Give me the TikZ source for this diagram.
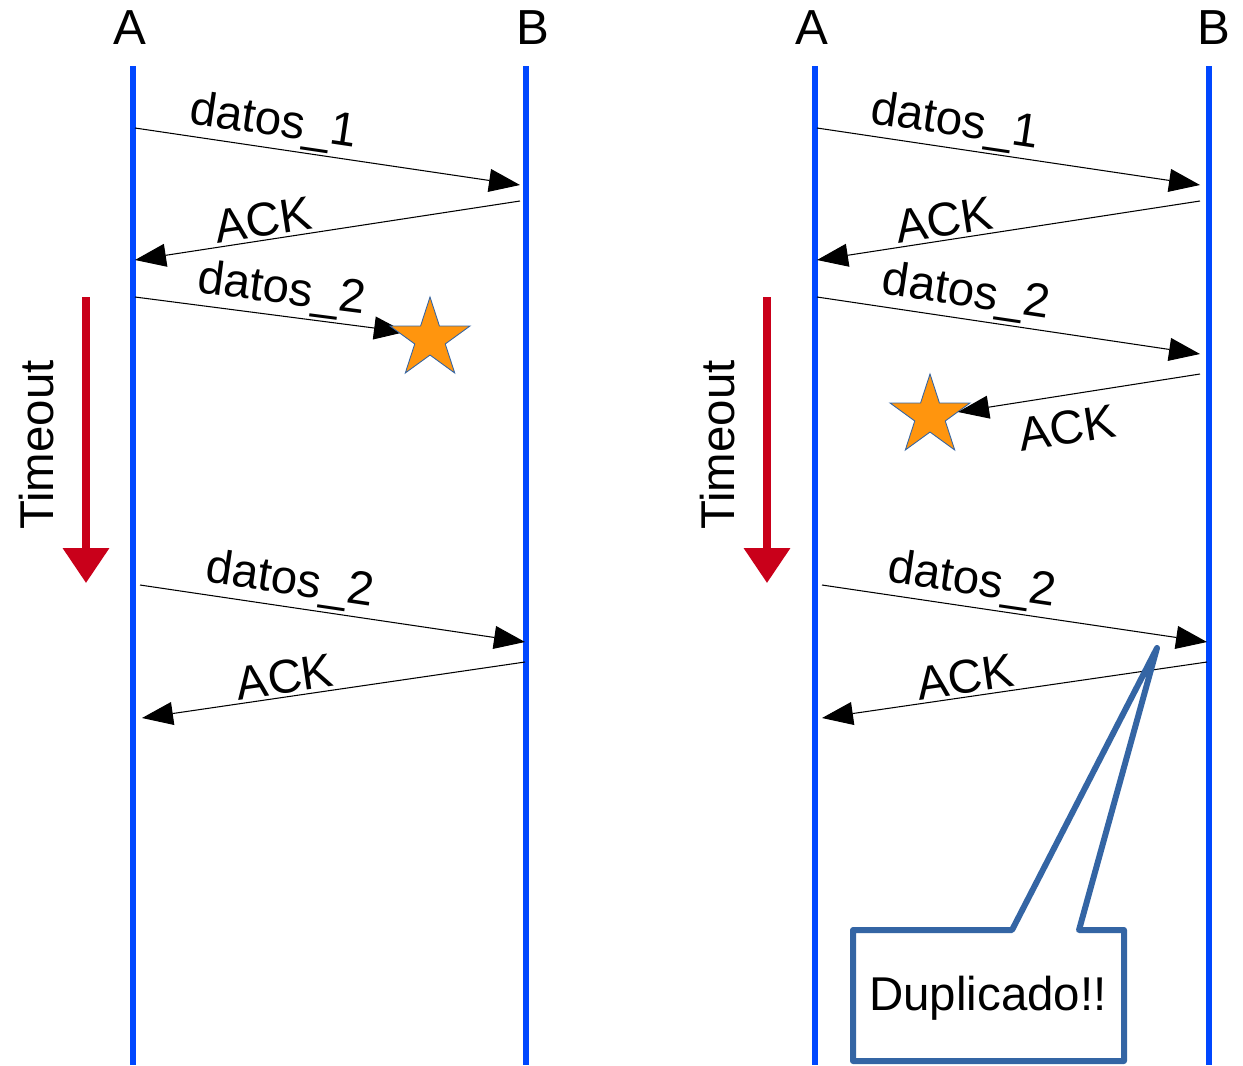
\documentclass[tikz,border=0pt]{standalone}
\usepackage{fontspec}
\setmainfont{Liberation Sans}
\usetikzlibrary{positioning,calc,arrows.meta,shapes.geometric}
\definecolor{lifeblue}{HTML}{0047FF}
\definecolor{timered}{HTML}{C9001A}
\definecolor{starorange}{HTML}{FF950E}
\definecolor{noteblue}{HTML}{3465A4}

\tikzset{
  lifeline/.style={draw=lifeblue,line width=3.4pt},
  msg/.style={draw=black,line width=0.6pt,-{Triangle[length=0.62cm,width=0.46cm]}},
  msglabel/.style={font=\fontsize{27}{31}\selectfont,sloped,inner sep=1.5pt},
  endname/.style={font=\fontsize{28}{32}\selectfont},
  timeout/.style={draw=timered,line width=4pt,-{Triangle[length=0.7cm,width=0.9cm]}},
  lost/.style={star,star points=5,star point ratio=2.618,minimum size=1.68cm,inner sep=0pt,fill=starorange,draw=noteblue,line width=0.5pt}
}

\begin{document}
\begin{tikzpicture}[x=0.02cm,y=-0.02cm]
\useasboundingbox (0,0) rectangle (1243,1065);
% lifelines, left panel
\node[endname] (nameA1) at (130,28) {A};
\node[endname] (nameB1) at (533,28) {B};
\draw[lifeline] (133,66) coordinate (topA1) -- (133,1065) coordinate (botA1);
\draw[lifeline] (526,66) coordinate (topB1) -- (526,1065) coordinate (botB1);
% lifelines, right panel
\node[endname] (nameA2) at (812,28) {A};
\node[endname] (nameB2) at (1214,28) {B};
\draw[lifeline] (815,66) coordinate (topA2) -- (815,1065) coordinate (botA2);
\draw[lifeline] (1209,66) coordinate (topB2) -- (1209,1065) coordinate (botB2);

% left panel: lost data
\coordinate (l1s) at (135,128); \coordinate (l1e) at (520,185);
\coordinate (l2s) at (520,201); \coordinate (l2e) at (135,260);
\coordinate (l3s) at (135,297); \coordinate (l3e) at (405,332);
\coordinate (l4s) at (140,585); \coordinate (l4e) at (525,642);
\coordinate (l5s) at (525,662); \coordinate (l5e) at (142,718);
\draw[msg] (l1s) -- node[msglabel,above,pos=0.35] {datos\_1} (l1e);
\draw[msg] (l2s) -- node[msglabel,above,pos=0.66] {ACK} (l2e);
\draw[msg] (l3s) -- node[msglabel,above,pos=0.53] {datos\_2} (l3e);
\node[lost] (star1) at (430,339) {};
\draw[msg] (l4s) -- node[msglabel,above,pos=0.38] {datos\_2} (l4e);
\draw[msg] (l5s) -- node[msglabel,above,pos=0.62] {ACK} (l5e);
\coordinate (to1s) at (86,297); \coordinate (to1e) at (86,583);
\draw[timeout] (to1s) -- (to1e);
\node[font=\fontsize{27}{31}\selectfont,rotate=90] (tolabel1) at (37,445) {Timeout};

% right panel: lost ACK
\coordinate (r1s) at (817,128); \coordinate (r1e) at (1200,185);
\coordinate (r2s) at (1200,201); \coordinate (r2e) at (817,260);
\coordinate (r3s) at (817,297); \coordinate (r3e) at (1200,354);
\coordinate (r4s) at (1200,374); \coordinate (r4e) at (958,412);
\coordinate (r5s) at (822,585); \coordinate (r5e) at (1207,642);
\coordinate (r6s) at (1207,662); \coordinate (r6e) at (822,718);
\draw[msg] (r1s) -- node[msglabel,above,pos=0.35] {datos\_1} (r1e);
\draw[msg] (r2s) -- node[msglabel,above,pos=0.66] {ACK} (r2e);
\draw[msg] (r3s) -- node[msglabel,above,pos=0.38] {datos\_2} (r3e);
\node[lost] (star2) at (930,416) {};
\draw[msg] (r4s) -- node[msglabel,below=7pt,pos=0.57] {ACK} (r4e);
\draw[msg] (r5s) -- node[msglabel,above,pos=0.38] {datos\_2} (r5e);
\draw[msg] (r6s) -- node[msglabel,above,pos=0.62] {ACK} (r6e);
\coordinate (to2s) at (767,297); \coordinate (to2e) at (767,583);
\draw[timeout] (to2s) -- (to2e);
\node[font=\fontsize{27}{31}\selectfont,rotate=90] (tolabel2) at (718,445) {Timeout};

% callout
\draw[noteblue,line width=3.4pt,line join=round,fill=white]
  (853,1061) -- (853,930) -- (1012,930) -- (1157,648) coordinate (tip)
  -- (1079,930) -- (1124,930) -- (1124,1061) -- cycle;
\node[font=\fontsize{27}{31}\selectfont] (dup) at (988,998) {Duplicado!!};
\end{tikzpicture}
\end{document}
